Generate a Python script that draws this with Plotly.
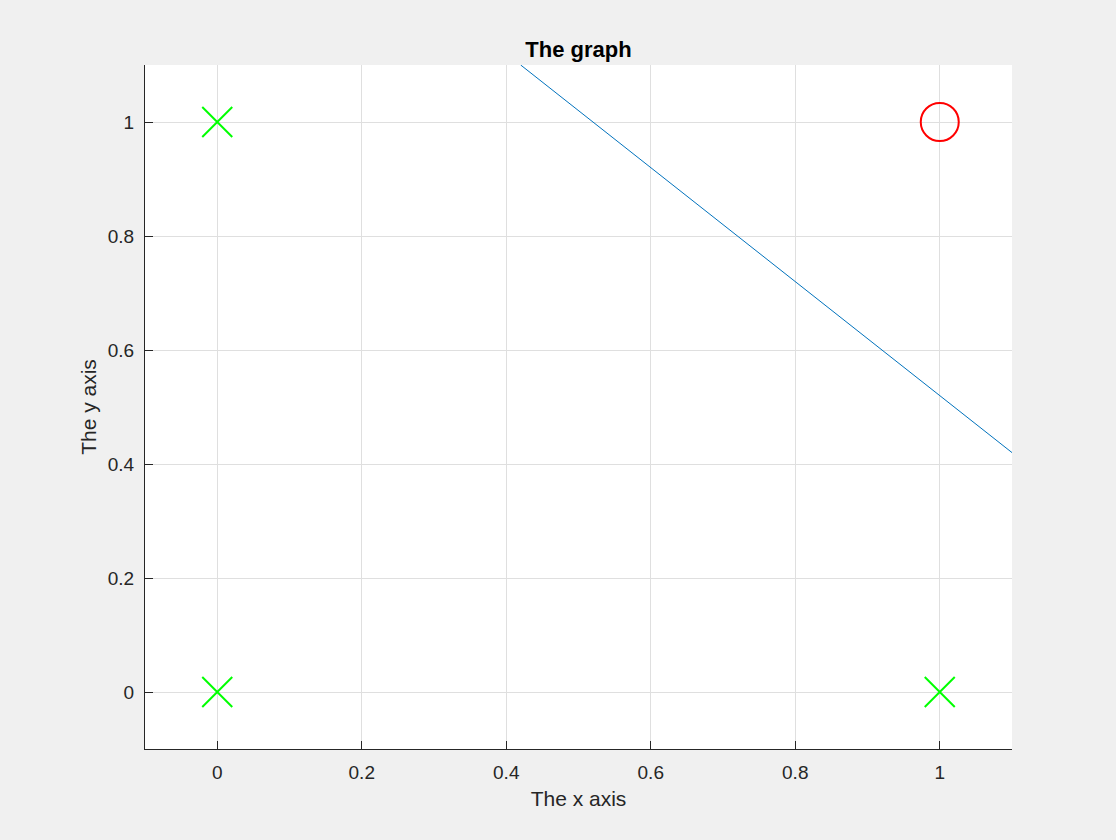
import plotly.graph_objects as go

# class 0 points (green crosses) and class 1 point (red circle)
neg_x = [0, 0, 1]
neg_y = [0, 1, 0]
pos_x = [1]
pos_y = [1]

# decision boundary, x + y = 1.52
line_x = [0.42, 1.1]
line_y = [1.1, 0.42]

tick_vals = [0, 0.2, 0.4, 0.6, 0.8, 1]
tick_text = ["0", "0.2", "0.4", "0.6", "0.8", "1"]

font = "Liberation Sans, Arial, sans-serif"
ink = "#262626"

fig = go.Figure()
fig.add_trace(go.Scatter(x=line_x, y=line_y, mode="lines",
                         line=dict(color="#0072BD", width=1)))
fig.add_trace(go.Scatter(x=neg_x, y=neg_y, mode="markers",
                         marker=dict(symbol="x-thin-open", size=30, color="#00FF00",
                                     line=dict(color="#00FF00", width=2))))
fig.add_trace(go.Scatter(x=pos_x, y=pos_y, mode="markers",
                         marker=dict(symbol="circle-open", size=38, color="#FF0000",
                                     line=dict(color="#FF0000", width=2))))

axis = dict(
    tickvals=tick_vals, ticktext=tick_text,
    showgrid=True, gridcolor="#DFDFDF", gridwidth=1,
    zeroline=False, showline=True, linecolor=ink, linewidth=1,
    ticks="inside", ticklen=8, tickcolor=ink,
    tickfont=dict(family=font, size=19, color=ink),
    title_font=dict(family=font, size=21, color=ink),
)

fig.update_layout(
    width=1116, height=840,
    paper_bgcolor="#F0F0F0", plot_bgcolor="#FFFFFF",
    margin=dict(l=145, r=104, t=65, b=91),
    showlegend=False,
    title=dict(text="<b>The graph</b>", x=0.5, xanchor="center",
               xref="paper", y=1, yref="paper", yanchor="bottom", pad=dict(b=8),
               font=dict(family=font, size=22, color="#000000")),
    xaxis=dict(axis, range=[-0.1, 1.1], ticklabelstandoff=6,
               title=dict(text="The x axis", standoff=9)),
    yaxis=dict(axis, range=[-0.1, 1.1], ticklabelstandoff=6,
               title=dict(text="The y axis", standoff=5)),
)

fig.write_html("out.html", config={"displayModeBar": False},
               post_script="document.body.style.margin='0';")
